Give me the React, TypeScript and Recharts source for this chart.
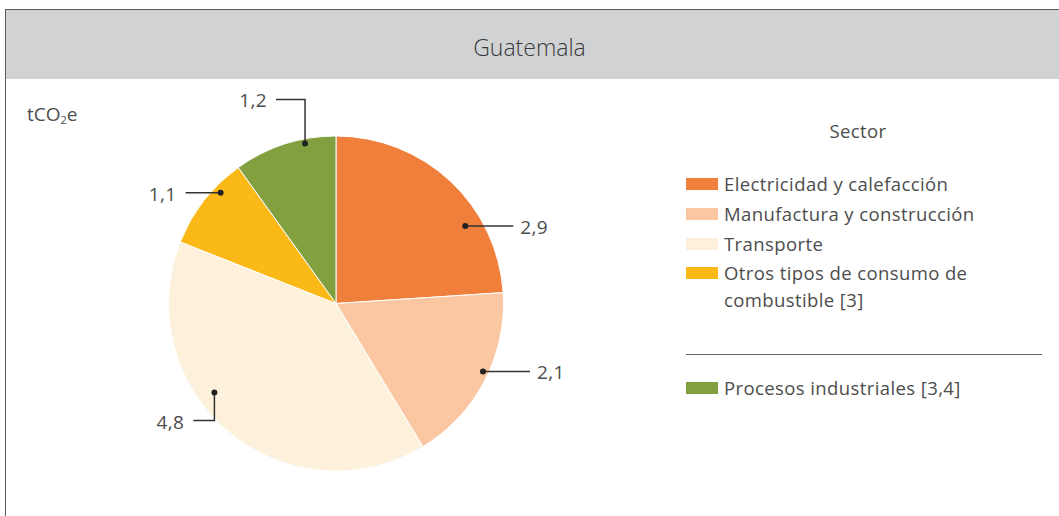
import React from "react";
import { PieChart, Pie, Cell, Legend } from "recharts";

const SECTORS = [
  "Electricidad y calefacción",
  "Manufactura y construcción",
  "Transporte",
  "Otros tipos de consumo de combustible [3]",
  "Procesos industriales [3,4]",
];
const EMISSIONS = [2.9, 2.1, 4.8, 1.1, 1.2];
const COLORS = ["#f07f3c", "#fac7a2", "#fef1db", "#fbb918", "#83a040"];

// leader line for each slice: angle shift of the dot, dot radius, then segments
const LEADERS = [
  { turn: 15.9, dr: 0.9, path: [[48, 0]] },
  { turn: -2.7, dr: 0.967, path: [[47, 0]] },
  { turn: 13.6, dr: 0.9, path: [[0, 28], [-21, 0]] },
  { turn: 5.9, dr: 0.955, path: [[-35, 0]] },
  { turn: 6.9, dr: 0.973, path: [[0, -44], [-29, 0]] },
];

const data = SECTORS.map((name, i) => ({ name, value: EMISSIONS[i] }));

const FONT = "'Open Sans', Lato, sans-serif";
const TEXT = "#4d4d4d";
const RAD = Math.PI / 180;

const fmt = (v: number) => v.toFixed(1).replace(".", ",");

function renderLabel(props: any) {
  const { cx, cy, midAngle, outerRadius, index, value } = props;
  const spec = LEADERS[index];
  const a = (midAngle - spec.turn) * RAD;
  const r = outerRadius * spec.dr;
  const x0 = cx + r * Math.cos(a);
  const y0 = cy - r * Math.sin(a);
  let x = x0;
  let y = y0;
  const pts = [`${x0},${y0}`];
  spec.path.forEach(([dx, dy]) => {
    x += dx;
    y += dy;
    pts.push(`${x},${y}`);
  });
  const right = spec.path[spec.path.length - 1][0] > 0;
  return (
    <g key={`lbl-${index}`}>
      <polyline points={pts.join(" ")} fill="none" stroke="#333" strokeWidth={1.5} />
      <circle cx={x0} cy={y0} r={3} fill="#222" />
      <text
        x={right ? x + 7 : x - 9}
        y={y + 1}
        textAnchor={right ? "start" : "end"}
        dominantBaseline="central"
        fontFamily={FONT}
        fontSize={19}
        letterSpacing={0.4}
        fill={TEXT}
      >
        {fmt(value)}
      </text>
    </g>
  );
}

function SectorLegend(props: any) {
  const items = [...(props.payload || [])].sort(
    (a: any, b: any) => SECTORS.indexOf(a.value) - SECTORS.indexOf(b.value)
  );
  const row = (item: any, i: number) => (
    <div key={i} style={{ display: "flex", alignItems: "flex-start" }}>
      <span
        style={{
          width: 32,
          height: 12,
          marginTop: i === 3 ? 8 : 9,
          marginRight: 6,
          flex: "none",
          background: item.color || COLORS[i],
        }}
      />
      <span style={{ lineHeight: i === 3 ? "27px" : "30px", width: 318 }}>
        {item.value}
      </span>
    </div>
  );
  return (
    <div style={{ fontFamily: FONT, fontSize: 18.5, letterSpacing: 0.4, color: TEXT }}>
      <div style={{ textAlign: "center", lineHeight: "26px", width: 344, marginBottom: 25 }}>
        Sector
      </div>
      {items.slice(0, items.length - 1).map(row)}
      <div style={{ borderTop: "1.5px solid #666", width: 356, marginTop: 41, marginBottom: 18 }} />
      {items.slice(items.length - 1).map((p: any) => row(p, items.length - 1))}
    </div>
  );
}

export default function App() {
  return (
    <div
      style={{
        position: "absolute",
        left: 5,
        top: 9,
        width: 1070,
        height: 520,
        borderTop: "1px solid #595959",
        borderLeft: "1px solid #595959",
        boxSizing: "border-box",
        background: "#fff",
        overflow: "hidden",
      }}
    >
      <style>{"html,body{overflow:hidden}"}</style>
      <div
        style={{
          height: 69,
          width: 1070,
          background: "#d1d2d4",
          fontFamily: FONT,
          fontWeight: 300,
          fontSize: 23,
          color: "#3a3a3a",
          boxSizing: "border-box",
        }}
      >
        <div style={{ width: 1047, textAlign: "center", lineHeight: "74px" }}>Guatemala</div>
      </div>
      <div
        style={{
          position: "absolute",
          left: 21,
          top: 92,
          fontFamily: FONT,
          fontSize: 19,
          color: TEXT,
          lineHeight: "24px",
        }}
      >
        tCO<sub style={{ fontSize: 11, verticalAlign: "-3px" }}>2</sub>e
      </div>
      <div style={{ position: "absolute", left: 0, top: 0 }}>
        <PieChart width={1053} height={506} margin={{ top: 0, right: 0, bottom: 0, left: 0 }}>
          <Pie
            data={data}
            dataKey="value"
            nameKey="name"
            cx={330}
            cy={293.5}
            outerRadius={167.5}
            startAngle={90}
            endAngle={-270}
            stroke="#fff"
            strokeWidth={1}
            label={renderLabel}
            labelLine={false}
            isAnimationActive={false}
          >
            {data.map((d, i) => (
              <Cell key={d.name} fill={COLORS[i]} />
            ))}
          </Pie>
          <Legend
            layout="vertical"
            align="right"
            verticalAlign="middle"
            content={<SectorLegend />}
            wrapperStyle={{ left: 680, top: 108, width: 360, right: "auto", bottom: "auto" }}
          />
        </PieChart>
      </div>
    </div>
  );
}
